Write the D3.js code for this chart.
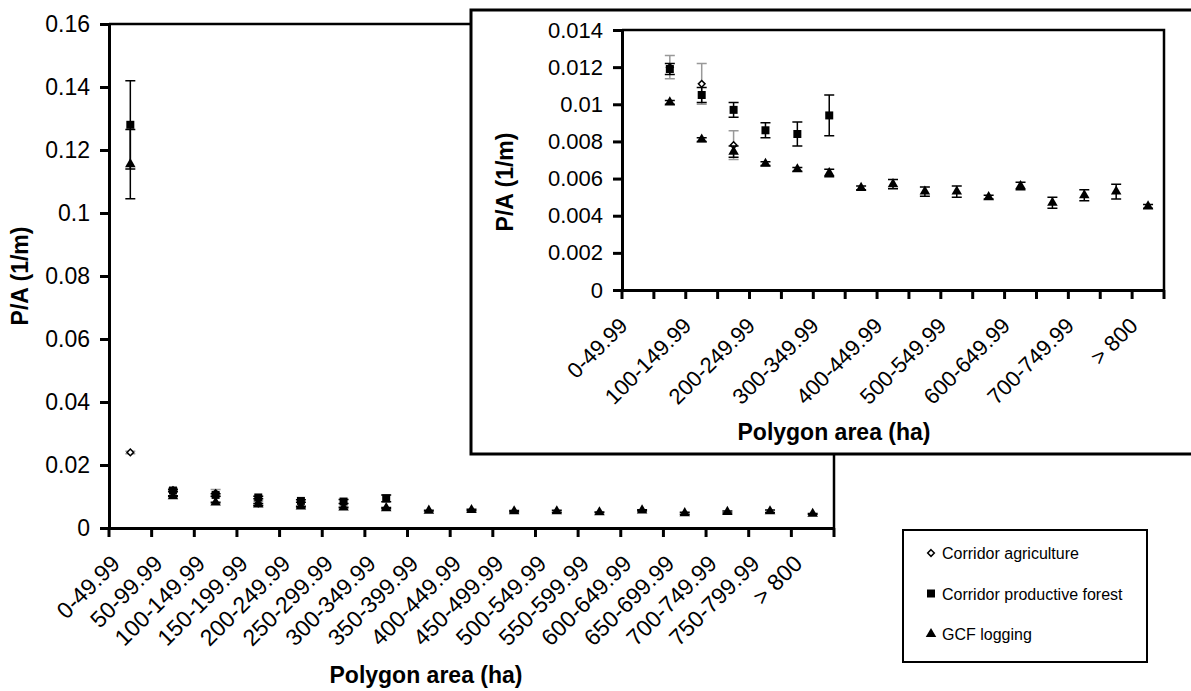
<!DOCTYPE html>
<html>
<head>
<meta charset="utf-8">
<script src="https://cdn.jsdelivr.net/npm/d3@7"></script>
<style>
	body { margin: 0; background: #fff; }
	svg text { font-family: "Liberation Sans", Arial, sans-serif; fill: #000; }
	.axis path, .axis line { stroke: #000; stroke-width: 3; }
	.title { font-weight: bold; }
</style>
</head>
<body>
<div id="chart"></div>
<script>

// categories on the x axis
var categories = ['0-49.99', '50-99.99', '100-149.99', '150-199.99', '200-249.99',
	'250-299.99', '300-349.99', '350-399.99', '400-449.99', '450-499.99',
	'500-549.99', '550-599.99', '600-649.99', '650-699.99', '700-749.99',
	'750-799.99', '> 800'];

// mean P/A per class, and the half length of its error bar
var agriculture    = [0.024, 0.0120, 0.0111, 0.0078];
var agricultureErr = [0.0004, 0.00063, 0.0011, 0.00077];

var forest    = [0.128, 0.0119, 0.0105, 0.0097, 0.0086, 0.0084, 0.0094];
var forestErr = [0.014, 0.0003, 0.0004, 0.0004, 0.0004, 0.00065, 0.0011];

var logging    = [0.1155, 0.0101, 0.0081, 0.00745, 0.0068, 0.0065, 0.0063, 0.0055, 0.0057,
	0.0053, 0.0053, 0.0050, 0.0056, 0.0047, 0.0051, 0.0053, 0.0045];
var loggingErr = [0.011, 0.0001, 0.0001, 0.0003, 0.0001, 0.0001, 0.0002, 0.0001, 0.00025,
	0.00025, 0.0003, 0.0001, 0.0002, 0.0003, 0.0003, 0.0004, 0.0001];

// y ticks of the big chart and of the zoomed one
var mainTicks  = [0, 0.02, 0.04, 0.06, 0.08, 0.1, 0.12, 0.14, 0.16];
var insetTicks = [0, 0.002, 0.004, 0.006, 0.008, 0.01, 0.012, 0.014];

var seriesNames = ['Corridor agriculture', 'Corridor productive forest', 'GCF logging'];

// small square standing on its corner, like the excel marker
var rhomb = {
	draw: function(context, size) {
		var r = Math.sqrt(size / 2);
		context.moveTo(0, -r);
		context.lineTo(r, 0);
		context.lineTo(0, r);
		context.lineTo(-r, 0);
		context.closePath();
	}
};

var series = [
	{ name: seriesNames[0], values: agriculture, err: agricultureErr,
	  symbol: d3.symbol().type(rhomb).size(22), fill: '#fff', stroke: '#000', errColor: '#999' },
	{ name: seriesNames[1], values: forest, err: forestErr,
	  symbol: d3.symbol().type(d3.symbolSquare).size(64), fill: '#000', stroke: 'none', errColor: '#000' },
	{ name: seriesNames[2], values: logging, err: loggingErr,
	  symbol: d3.symbol().type(d3.symbolTriangle).size(48), fill: '#000', stroke: 'none', errColor: '#000' }
];

var svg = d3.select('#chart')
			.append('svg')
			.attr('width', 1191)
			.attr('height', 691);

function fmt(d) { return String(+d.toFixed(4)); }

function drawPanel(g, x, y, yMax, ticks, fontSize, labelEvery, labelShift) {

	var bw = x.bandwidth();
	var x0 = x.range()[0], x1 = x.range()[1];
	var yTop = y.range()[1], yBottom = y.range()[0];

	// plot area border (top and right)
	g.append('path')
	 .attr('d', 'M' + x0 + ',' + yTop + 'H' + x1 + 'V' + yBottom)
	 .attr('fill', 'none')
	 .attr('stroke', '#000')
	 .attr('stroke-width', 2.5);

	// y axis
	var yAxis = g.append('g')
				 .attr('class', 'axis')
				 .attr('transform', 'translate(' + x0 + ',0)')
				 .call(d3.axisLeft(y).tickValues(ticks).tickFormat(fmt)
						.tickSize(9).tickSizeOuter(0).tickPadding(10));
	yAxis.selectAll('text')
		 .style('font-size', fontSize + 'px');

	// x axis, ticks between the classes
	var xAxis = g.append('g')
				 .attr('class', 'axis')
				 .attr('transform', 'translate(0,' + yBottom + ')')
				 .call(d3.axisBottom(x).tickSize(9).tickSizeOuter(0)
						.tickFormat(function(d, i) { return i % labelEvery == 0 ? d : ''; }));
	xAxis.selectAll('.tick line')
		 .attr('transform', 'translate(' + (-bw / 2) + ',0)');
	xAxis.append('line')
		 .attr('x1', x1).attr('x2', x1)
		 .attr('y1', 0).attr('y2', 9);
	xAxis.selectAll('text')
		 .attr('x', 0)
		 .attr('y', 0)
		 .attr('dy', 0)
		 .attr('transform', 'translate(' + labelShift[0] + ',' + labelShift[1] + ') rotate(-45)')
		 .style('text-anchor', 'end')
		 .style('font-size', fontSize + 'px');

	// points with error bars
	series.forEach(function(s) {
		var pts = [];
		s.values.forEach(function(v, i) {
			if (v != null && v <= yMax) pts.push({ cat: categories[i], v: v, e: s.err[i] });
		});

		var grp = g.append('g');
		grp.selectAll('.err')
		   .data(pts)
		   .enter()
		   .append('path')
		   .attr('fill', 'none')
		   .attr('stroke', s.errColor)
		   .attr('stroke-width', 1.5)
		   .attr('d', function(d) {
				var cx = x(d.cat) + bw / 2;
				var top = y(Math.min(d.v + d.e, yMax));
				var bot = y(d.v - d.e);
				return 'M' + cx + ',' + top + 'V' + bot +
					   'M' + (cx - 5) + ',' + top + 'H' + (cx + 5) +
					   'M' + (cx - 5) + ',' + bot + 'H' + (cx + 5);
		   });

		grp.selectAll('.pt')
		   .data(pts)
		   .enter()
		   .append('path')
		   .attr('d', s.symbol)
		   .attr('transform', function(d) {
				return 'translate(' + (x(d.cat) + bw / 2) + ',' + y(d.v) + ')';
		   })
		   .attr('fill', s.fill)
		   .attr('stroke', s.stroke)
		   .attr('stroke-width', 1.5);
	});
}

// ---- main chart
var mainX = d3.scaleBand().domain(categories).range([109, 834]);
var mainY = d3.scaleLinear().domain([0, 0.16]).range([528, 24]);
var main = svg.append('g');
drawPanel(main, mainX, mainY, 0.16, mainTicks, 23, 1, [-9, 37]);

main.append('text')
	.attr('class', 'title')
	.attr('x', 426)
	.attr('y', 683)
	.attr('text-anchor', 'middle')
	.style('font-size', '23px')
	.text('Polygon area (ha)');

main.append('text')
	.attr('class', 'title')
	.attr('transform', 'translate(28,276) rotate(-90)')
	.attr('text-anchor', 'middle')
	.style('font-size', '23px')
	.text('P/A (1/m)');

// ---- zoomed chart in its box
svg.append('rect')
   .attr('x', 471)
   .attr('y', 10)
   .attr('width', 740)
   .attr('height', 444)
   .attr('fill', '#fff')
   .attr('stroke', '#000')
   .attr('stroke-width', 3);

var insetX = d3.scaleBand().domain(categories).range([622, 1164]);
var insetY = d3.scaleLinear().domain([0, 0.014]).range([290, 30]);
var inset = svg.append('g');
drawPanel(inset, insetX, insetY, 0.014, insetTicks, 22, 2, [-9, 37]);

inset.append('text')
	 .attr('class', 'title')
	 .attr('x', 834)
	 .attr('y', 440)
	 .attr('text-anchor', 'middle')
	 .style('font-size', '23px')
	 .text('Polygon area (ha)');

inset.append('text')
	 .attr('class', 'title')
	 .attr('transform', 'translate(513,182) rotate(-90)')
	 .attr('text-anchor', 'middle')
	 .style('font-size', '23px')
	 .text('P/A (1/m)');

// ---- legend
var legend = svg.append('g');
legend.append('rect')
	  .attr('x', 903)
	  .attr('y', 530)
	  .attr('width', 244)
	  .attr('height', 132)
	  .attr('fill', '#fff')
	  .attr('stroke', '#000')
	  .attr('stroke-width', 2);

var item = legend.selectAll('.item')
				 .data(series)
				 .enter()
				 .append('g')
				 .attr('transform', function(d, i) { return 'translate(931,' + (559 + i * 40.5) + ')'; });
item.append('path')
	.attr('d', function(d) { return d.symbol(); })
	.attr('transform', 'translate(0,-6)')
	.attr('fill', function(d) { return d.fill; })
	.attr('stroke', function(d) { return d.stroke; })
	.attr('stroke-width', 1.5);
item.append('text')
	.attr('x', 11)
	.style('font-size', '16px')
	.text(function(d) { return d.name; });

</script>
</body>
</html>
